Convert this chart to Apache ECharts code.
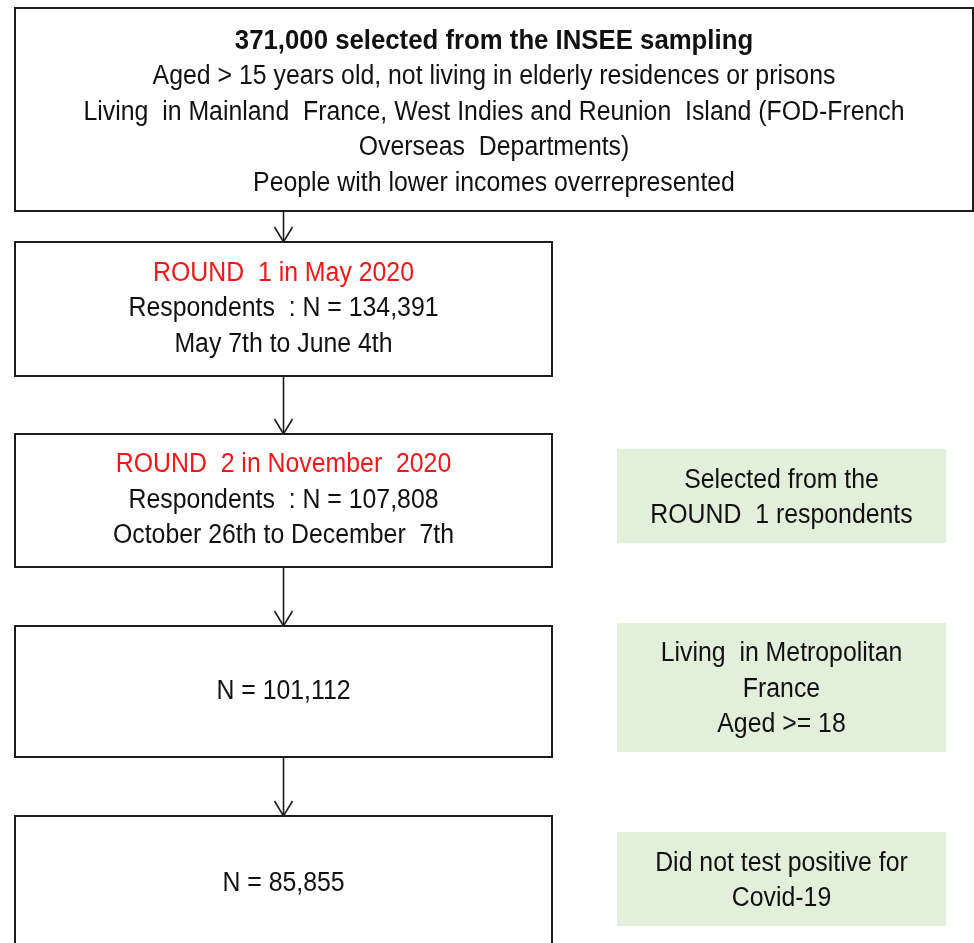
<!DOCTYPE html>
<html>
<head>
<meta charset="utf-8">
<script src="https://cdn.jsdelivr.net/npm/echarts@6/dist/echarts.min.js"></script>
<style>
  html, body { margin: 0; padding: 0; background: #fff; }
  #chart { width: 974px; height: 943px; }
</style>
</head>
<body>
<div id="chart"></div>
<script>
// flow data
const stepCounts = [371000, 134391, 107808, 101112, 85855]
const roundTitles = [null, 'ROUND  1 in May 2020', 'ROUND  2 in November  2020', null, null]
const roundDates = [null, 'May 7th to June 4th', 'October 26th to December  7th', null, null]
const samplingNotes = [
  'Aged > 15 years old, not living in elderly residences or prisons',
  'Living  in Mainland  France, West Indies and Reunion  Island (FOD-French',
  'Overseas  Departments)',
  'People with lower incomes overrepresented'
]
const filterNotes = [
  'Selected from the\nROUND  1 respondents',
  'Living  in Metropolitan\nFrance\nAged >= 18',
  'Did not test positive for\nCovid-19'
]

// layout (pixel space of the hidden axes)
const W = 974
const H = 943
const mainBoxes = [
  [15, 8, 973, 211],
  [15, 242, 552, 376],
  [15, 434, 552, 567],
  [15, 626, 552, 757],
  [15, 816, 552, 951]
]
const noteBoxes = [
  [617, 449, 946, 543],
  [617, 623, 946, 752],
  [617, 832, 946, 926]
]
// no narrow font installed: squeeze Liberation Sans horizontally instead
const FONT = '"Liberation Sans", Arial, sans-serif'
const FONT_SIZE = 27
const LINE_H = 35.5
const NARROW = 0.92

function fmt(n) {
  return n.toLocaleString('en-US')
}

function stepLines(i) {
  if (i === 0) {
    return [{ s: 'b', t: fmt(stepCounts[0]) + ' selected from the INSEE sampling' }]
      .concat(samplingNotes.map((t) => ({ s: 'n', t })))
  }
  if (roundTitles[i]) {
    return [
      { s: 'r', t: roundTitles[i] },
      { s: 'n', t: 'Respondents  : N = ' + fmt(stepCounts[i]) },
      { s: 'n', t: roundDates[i] }
    ]
  }
  return [{ s: 'n', t: 'N = ' + fmt(stepCounts[i]) }]
}

const rich = {
  b: { fontFamily: FONT, fontSize: 28, fontWeight: 'bold', fill: '#111', lineHeight: LINE_H },
  r: { fontFamily: FONT, fontSize: FONT_SIZE, fill: '#f01818', lineHeight: LINE_H },
  n: { fontFamily: FONT, fontSize: FONT_SIZE, fill: '#111', lineHeight: LINE_H }
}

function rectOf(api, box) {
  const p0 = api.coord([box[0], box[1]])
  const p1 = api.coord([box[2], box[3]])
  return { x: p0[0], y: p0[1], width: p1[0] - p0[0], height: p1[1] - p0[1] }
}

function narrowText(cx, cy, style) {
  return {
    type: 'text',
    x: cx,
    y: cy,
    scaleX: NARROW,
    style: Object.assign({ x: 0, y: 0, align: 'center', verticalAlign: 'middle' }, style)
  }
}

function renderStep(params, api) {
  const i = api.value(0)
  const r = rectOf(api, mainBoxes[i])
  const lines = stepLines(i)
  const children = [
    {
      type: 'rect',
      shape: r,
      style: { fill: '#fff', stroke: '#1c1c1c', lineWidth: 2 }
    },
    narrowText(r.x + r.width / 2, r.y + r.height / 2 + (i === 0 ? 3 : 0), {
      text: lines.map((l) => '{' + l.s + '|' + l.t + '}').join('\n'),
      rich: rich
    })
  ]
  if (i < mainBoxes.length - 1) {
    const next = rectOf(api, mainBoxes[i + 1])
    const cx = next.x + next.width / 2
    const y0 = r.y + r.height
    const y1 = next.y
    children.push({
      type: 'line',
      shape: { x1: cx, y1: y0, x2: cx, y2: y1 },
      style: { stroke: '#1c1c1c', lineWidth: 1.6 }
    })
    children.push({
      type: 'polyline',
      shape: { points: [[cx - 9, y1 - 15], [cx, y1], [cx + 9, y1 - 15]] },
      style: { stroke: '#1c1c1c', lineWidth: 1.6, fill: null }
    })
  }
  return { type: 'group', children }
}

function renderNote(params, api) {
  const i = api.value(0)
  const r = rectOf(api, noteBoxes[i])
  return {
    type: 'group',
    children: [
      { type: 'rect', shape: r, style: { fill: '#e2efda' } },
      narrowText(r.x + r.width / 2, r.y + r.height / 2 + 2, {
        text: filterNotes[i],
        fontFamily: FONT,
        fontSize: FONT_SIZE,
        lineHeight: LINE_H,
        fill: '#111'
      })
    ]
  }
}

const chart = echarts.init(document.getElementById('chart'))
chart.setOption({
  animation: false,
  grid: { left: 0, right: 0, top: 0, bottom: 0 },
  xAxis: { type: 'value', min: 0, max: W, show: false },
  yAxis: { type: 'value', min: 0, max: H, inverse: true, show: false },
  series: [
    {
      type: 'custom',
      clip: false,
      renderItem: renderStep,
      data: stepCounts.map((c, i) => [i, c])
    },
    {
      type: 'custom',
      clip: false,
      renderItem: renderNote,
      data: filterNotes.map((t, i) => [i])
    }
  ]
})
</script>
</body>
</html>
